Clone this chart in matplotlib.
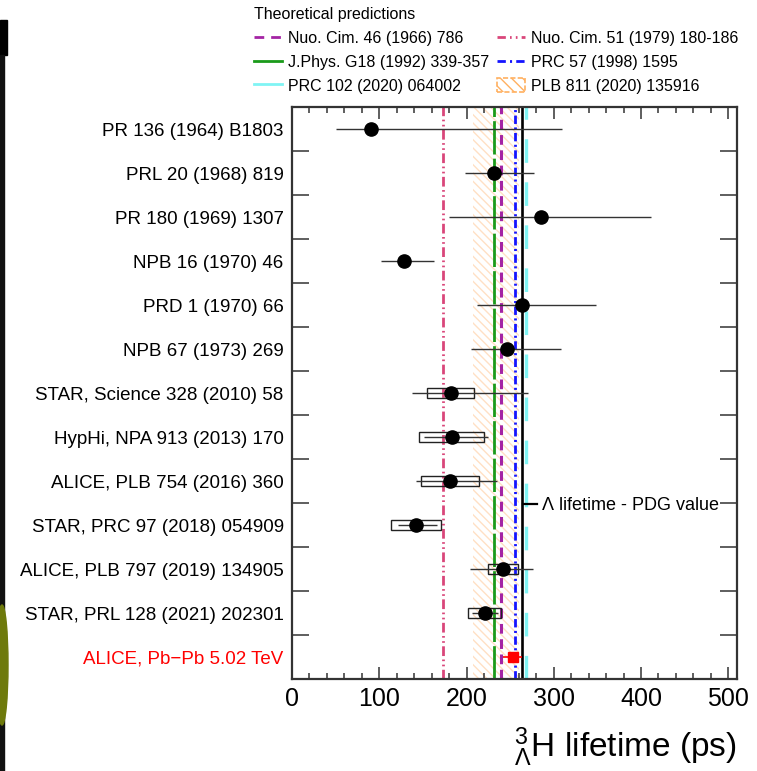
import matplotlib
matplotlib.use('Agg')
import matplotlib.pyplot as plt
from matplotlib.lines import Line2D
from matplotlib.patches import Patch, Rectangle, Ellipse
import numpy as np

plt.rcParams['font.family'] = ['Liberation Sans', 'DejaVu Sans']
plt.rcParams['mathtext.fontset'] = 'custom'
plt.rcParams['mathtext.rm'] = 'Liberation Sans'
plt.rcParams['mathtext.it'] = 'Liberation Sans:italic'
plt.rcParams['lines.scale_dashes'] = False
plt.rcParams['hatch.linewidth'] = 1.0

# measurements (ps)
labels = ["PR 136 (1964) B1803", "PRL 20 (1968) 819", "PR 180 (1969) 1307",
          "NPB 16 (1970) 46", "PRD 1 (1970) 66", "NPB 67 (1973) 269",
          "STAR, Science 328 (2010) 58", "HypHi, NPA 913 (2013) 170",
          "ALICE, PLB 754 (2016) 360", "STAR, PRC 97 (2018) 054909",
          "ALICE, PLB 797 (2019) 134905", "STAR, PRL 128 (2021) 202301",
          "ALICE, Pb\u2212Pb 5.02 TeV"]
tau = [90, 232, 285, 128, 264, 246, 182, 183, 181, 142, 242, 221, 253]
err_lo = [40, 34, 105, 26, 52, 41, 45, 32, 39, 21, 38, 15, 11]
err_hi = [220, 45, 127, 35, 84, 62, 89, 42, 54, 24, 34, 15, 11]
syst = [0, 0, 0, 0, 0, 0, 27, 37, 33, 29, 17, 19, 6]

# theory predictions (ps)
nc46 = 239.3
nc51 = 173.0
jphys = 232.0
prc57 = 256.0
prc102 = 268.0
plb811_lo, plb811_hi = 207.0, 260.0
pdg_lambda = 263.2

fig = plt.figure(figsize=(7.57, 7.71), dpi=100)
ax = fig.add_axes([292/757, 1-679/771, 445/757, 572/771])

rows = np.arange(1, len(tau) + 1)
n_old = len(tau) - 1

# theory band and lines
ax.fill_betweenx([0.5, 13.5], plb811_lo, plb811_hi, facecolor='none',
                 edgecolor='#ffe0c4', linewidth=0, hatch='\\\\\\\\', zorder=1)
ax.axvline(nc51, color='#d9467a', lw=2, dashes=(7, 2.5, 1.2, 2.5, 1.2, 2.5), zorder=2)
ax.axvline(jphys, color='#1a9a1a', lw=2, dashes=(24, 3), zorder=2)
ax.axvline(nc46, color='#a424a4', lw=2.2, dashes=(7, 4), zorder=2)
ax.axvline(prc57, color='#1414ff', lw=2, dashes=(6, 2.5, 1.5, 2.5), zorder=2)
ax.axvline(prc102, color='#80f4f4', lw=2.4, dashes=(17, 14), zorder=2)
ax.axvline(pdg_lambda, color='black', lw=1.9, zorder=2)

# systematic boxes
for r, t, s in zip(rows[:n_old], tau[:n_old], syst[:n_old]):
    if s > 0:
        ax.add_patch(Rectangle((t - s, r - 0.12), 2 * s, 0.24, facecolor='none',
                               edgecolor='#222222', lw=1.0, zorder=3))
ax.add_patch(Rectangle((tau[-1] - syst[-1], rows[-1] - 0.11), 2 * syst[-1], 0.22,
                       facecolor='red', edgecolor='red', lw=1.0, zorder=3))

# stat errors + points
ax.errorbar(tau[:n_old], rows[:n_old], xerr=[err_lo[:n_old], err_hi[:n_old]],
            fmt='o', color='black', ms=9.5, elinewidth=1.0, ecolor='#333333',
            capsize=0, zorder=4)
ax.errorbar(tau[-1:], rows[-1:], xerr=[err_lo[-1:], err_hi[-1:]], fmt='s',
            color='red', ms=6, elinewidth=1.2, capsize=0, zorder=4)

ax.set_xlim(0, 510)
ax.set_ylim(13.5, 0.5)
ax.set_xticks(np.arange(0, 501, 100))
ax.set_xticks(np.arange(0, 511, 20), minor=True)
ax.tick_params(axis='x', which='major', direction='in', top=True, length=8.5,
               width=1.1, labelsize=18, pad=6, color='#333333')
ax.tick_params(axis='x', which='minor', direction='in', top=True, length=4.3,
               width=1.1, color='#333333')
ax.set_yticks(rows[:-1] + 0.5)
ax.set_yticks(rows, labels, minor=True)
ax.tick_params(axis='y', which='major', direction='in', left=True, right=True,
               length=12, width=1.1, labelleft=False, color='#333333')
ax.tick_params(axis='y', which='minor', length=0, labelsize=13.5, pad=6)
ax.get_yticklabels(minor=True)[-1].set_color('red')
for sp in ax.spines.values():
    sp.set_linewidth(1.6)
    sp.set_color('#333333')

ax.set_xlabel(r'$^{3}_{\mathrm{\Lambda}}$H lifetime (ps)', fontsize=24,
              loc='right', labelpad=10)

# PDG label
pdg_leg = ax.legend(handles=[Line2D([], [], color='black', lw=1.6)],
                    labels=[r'$\mathrm{\Lambda}$ lifetime - PDG value'],
                    loc='center left',
                    bbox_to_anchor=((523 - 292) / 445, (679 - 506) / 572),
                    frameon=False, fontsize=13, handlelength=0.75,
                    handletextpad=0.25, borderpad=0, borderaxespad=0)

# theory legend
handles = [
    Line2D([], [], color='#a424a4', lw=2, dashes=(7, 5)),
    Line2D([], [], color='#1a9a1a', lw=2),
    Line2D([], [], color='#80f4f4', lw=2),
    Line2D([], [], color='#d9467a', lw=2, dashes=(6, 3, 1.2, 3, 1.2, 3)),
    Line2D([], [], color='#1414ff', lw=2, dashes=(6, 3, 1.5, 3)),
    Patch(facecolor='none', edgecolor='#ffb060', hatch='\\\\\\', linestyle='--', lw=1.2),
]
names = ["Nuo. Cim. 46 (1966) 786", "J.Phys. G18 (1992) 339-357",
         "PRC 102 (2020) 064002", "Nuo. Cim. 51 (1979) 180-186",
         "PRC 57 (1998) 1595", "PLB 811 (2020) 135916"]
fig.legend(handles, names, ncol=2, loc='upper left',
           bbox_to_anchor=(254/757, 1 - 7/771), frameon=False, fontsize=11.5,
           title='Theoretical predictions', title_fontsize=11.5, alignment='left',
           handlelength=1.75, handletextpad=0.35, columnspacing=0.55,
           labelspacing=0.52, borderpad=0, borderaxespad=0, handleheight=1.0)

# screenshot edge remnants on the left
fig.add_artist(Rectangle((0, 1 - 55/771), 7/757, 35/771, transform=fig.transFigure,
                         color='black'))
fig.add_artist(Rectangle((0, 0), 4/757, 1 - 55/771, transform=fig.transFigure,
                         color='#111111'))
fig.add_artist(Ellipse((2/757, 1 - 665/771), 12/757, 120/771, transform=fig.transFigure,
                       color='#6e7a0c'))

fig.savefig('out.png', dpi=100)
